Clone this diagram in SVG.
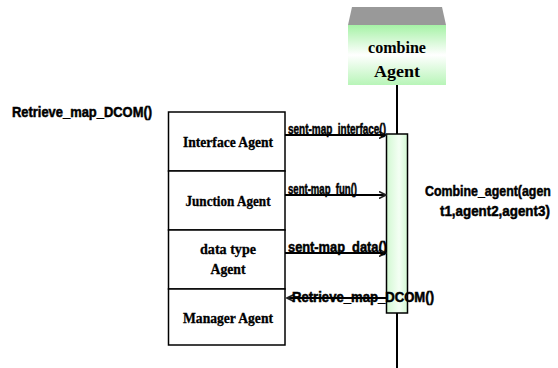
<svg xmlns="http://www.w3.org/2000/svg" width="558" height="368" viewBox="0 0 558 368">
  <defs>
    <linearGradient id="agentFill" x1="0" y1="0" x2="0" y2="1">
      <stop offset="0" stop-color="#a6f2a6"/>
      <stop offset="0.5" stop-color="#ffffff"/>
      <stop offset="1" stop-color="#b8f5b8"/>
    </linearGradient>
    <linearGradient id="barFill" x1="0" y1="0" x2="1" y2="0">
      <stop offset="0" stop-color="#d2f8d2"/>
      <stop offset="0.6" stop-color="#f4fff4"/>
      <stop offset="1" stop-color="#d2f8d2"/>
    </linearGradient>
    <marker id="head" markerWidth="8" markerHeight="8" refX="7" refY="4" orient="auto" markerUnits="userSpaceOnUse">
      <path d="M0,0.5 L7,4 L0,7.5" fill="none" stroke="#222" stroke-width="1.6"/>
    </marker>
  </defs>
  <style>
    .line { stroke: #000; stroke-width: 2; fill: none; }
    .box { fill: #fff; stroke: #000; stroke-width: 1.5; }
    .node-label { font-family: "Liberation Serif", "Times New Roman", serif; font-weight: bold; font-size: 14px; text-anchor: middle; fill: #000; stroke: #000; stroke-width: 0.3; }
    .msg { font-family: "Liberation Sans", Arial, sans-serif; font-weight: bold; font-size: 14px; fill: #000; stroke: #000; stroke-width: 0.5; }
    .title { font-family: "Liberation Serif", "Times New Roman", serif; font-weight: bold; font-size: 17px; text-anchor: middle; fill: #000; }
  </style>

  <!-- lifeline object -->
  <g id="combine-agent">
    <polygon points="352,7 442,7 446,25 348,25" fill="#999999"/>
    <rect x="348" y="25" width="98" height="60" fill="url(#agentFill)"/>
    <text class="title" x="397" y="53" textLength="58" lengthAdjust="spacingAndGlyphs">combine</text>
    <text class="title" x="397" y="77" textLength="46" lengthAdjust="spacingAndGlyphs">Agent</text>
  </g>

  <!-- lifeline and activation -->
  <g id="lifeline">
    <line class="line" x1="397" y1="85" x2="397" y2="134"/>
    <line class="line" x1="397" y1="313" x2="397" y2="368"/>
    <rect id="activation" x="386.5" y="134" width="21" height="179" fill="url(#barFill)" stroke="#000" stroke-width="1.5"/>
  </g>

  <!-- stacked agent boxes -->
  <g id="interface-agent">
    <rect class="box" x="168.5" y="112" width="116.5" height="59"/>
    <text class="node-label" x="228" y="147" textLength="90" lengthAdjust="spacingAndGlyphs">Interface Agent</text>
  </g>
  <g id="junction-agent">
    <rect class="box" x="168.5" y="171" width="116.5" height="59"/>
    <text class="node-label" x="228" y="206" textLength="85" lengthAdjust="spacingAndGlyphs">Junction Agent</text>
  </g>
  <g id="datatype-agent">
    <rect class="box" x="168.5" y="230" width="116.5" height="59"/>
    <text class="node-label" x="228" y="254" textLength="56" lengthAdjust="spacingAndGlyphs">data type</text>
    <text class="node-label" x="228" y="274" textLength="35" lengthAdjust="spacingAndGlyphs">Agent</text>
  </g>
  <g id="manager-agent">
    <rect class="box" x="168.5" y="289" width="116.5" height="56"/>
    <text class="node-label" x="228" y="323" textLength="90" lengthAdjust="spacingAndGlyphs">Manager Agent</text>
  </g>

  <!-- messages -->
  <g id="connectors">
    <line class="line" x1="285" y1="135" x2="386" y2="135" marker-end="url(#head)"/>
    <line class="line" x1="285" y1="195" x2="386" y2="195" marker-end="url(#head)"/>
    <line class="line" x1="285" y1="253" x2="386" y2="253" marker-end="url(#head)"/>
    <line class="line" x1="386" y1="298" x2="287" y2="298" marker-end="url(#head)"/>
  </g>

  <g id="labels">
    <text class="msg" x="12" y="117" textLength="140" lengthAdjust="spacingAndGlyphs">Retrieve_map_DCOM()</text>
    <text class="msg" x="288" y="134" textLength="98" lengthAdjust="spacingAndGlyphs">sent-map_interface()</text>
    <text class="msg" x="288" y="194" textLength="69" lengthAdjust="spacingAndGlyphs">sent-map_fun()</text>
    <text class="msg" x="288" y="252" textLength="99" lengthAdjust="spacingAndGlyphs">sent-map_data()</text>
    <text class="msg" x="292" y="302" textLength="142" lengthAdjust="spacingAndGlyphs">Retrieve_map_DCOM()</text>
    <!-- narrowed horizontally so the note stays inside the right edge -->
    <text class="msg" transform="translate(425,196) scale(0.885,1)">Combine_agent(agen</text>
    <text class="msg" transform="translate(440,216) scale(0.955,1)">t1,agent2,agent3)</text>
  </g>
</svg>
